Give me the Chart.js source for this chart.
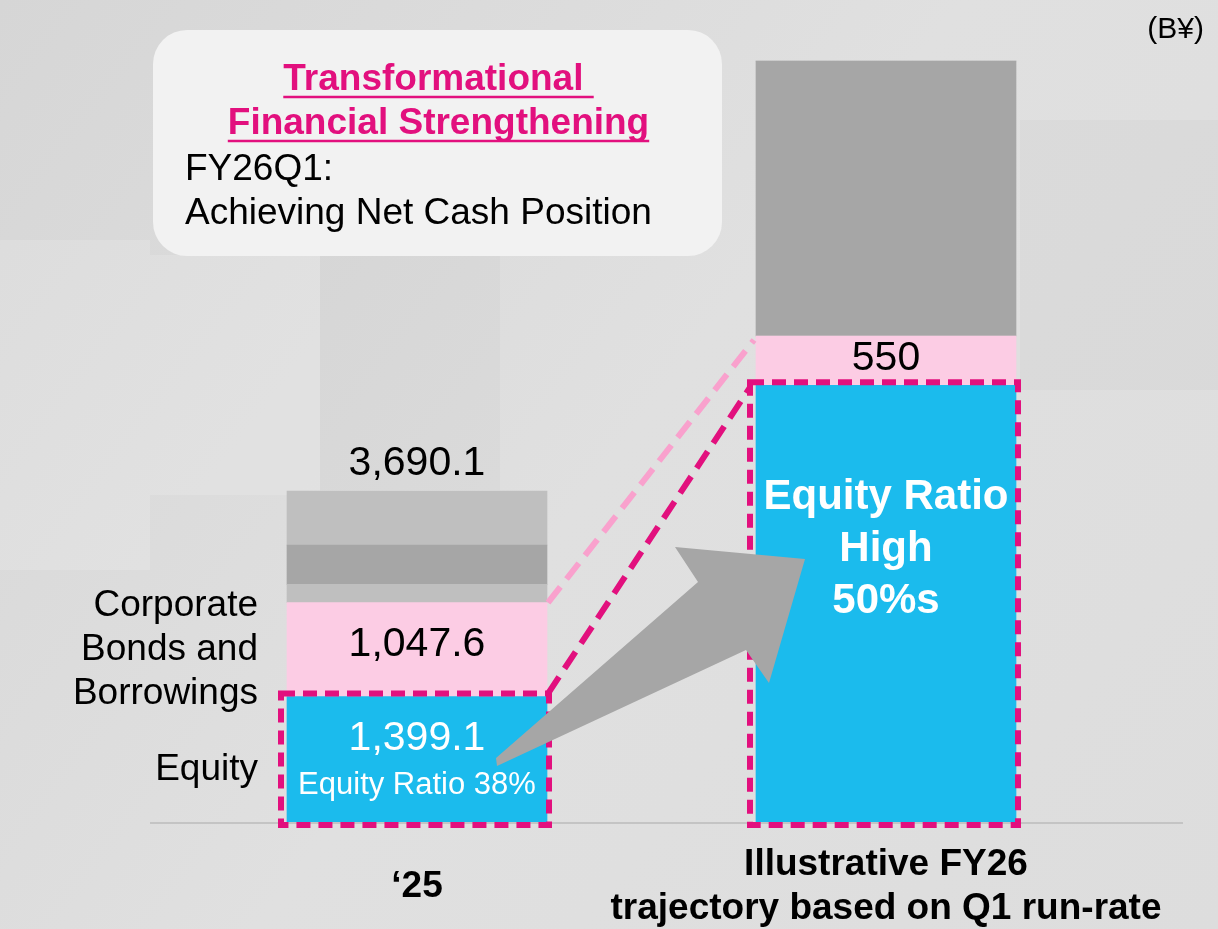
<!DOCTYPE html>
<html>
<head>
<meta charset="utf-8">
<style>
  html, body { margin: 0; padding: 0; background: #dedede; }
  canvas { display: block; }
</style>
<script src="https://cdn.jsdelivr.net/npm/chart.js@4.4.1/dist/chart.umd.min.js"></script>
</head>
<body>
<canvas id="bsChart" width="1218" height="929"></canvas>
<script>
// balance sheet, B¥
const periods = ["‘25", "Illustrative FY26"];
const periodLines = [["‘25"], ["Illustrative FY26", "trajectory based on Q1 run-rate"]];
const equity = [1399.1, 4870];
const bondsBorrowings = [1047.6, 550];
const otherLower = [204, 0];
const otherMid = [437, 3065];
const otherUpper = [602.4, 0];
const totalLabels = ["3,690.1", null];
const equityRatioText = ["Equity Ratio 38%", ["Equity Ratio", "High", "50%s"]];

const BLUE = "#1bbbed";
const PINK = "#fccce4";
const MAGENTA = "#e2107e";
const LIGHT_MAGENTA = "#f9a1cd";
const GREY_LIGHT = "#bfbfbf";
const GREY_DARK = "#a6a6a6";
const FONT = "'Liberation Sans', Arial, sans-serif";

function fmt(v) {
  return v.toLocaleString("en-US", { minimumFractionDigits: v % 1 ? 1 : 0, maximumFractionDigits: 1 });
}

const decor = {
  id: "decor",
  beforeDraw(chart) {
    const ctx = chart.ctx;
    const w = chart.width, h = chart.height;
    ctx.save();
    const g = ctx.createLinearGradient(0, 0, w, h);
    g.addColorStop(0, "#d6d6d6");
    g.addColorStop(0.5, "#e0e0e0");
    g.addColorStop(1, "#dddddd");
    ctx.fillStyle = g;
    ctx.fillRect(0, 0, w, h);
    // faint wall panels in the backdrop
    ctx.fillStyle = "rgba(255,255,255,0.14)";
    ctx.fillRect(0, 240, 150, 330);
    ctx.fillRect(150, 255, 170, 240);
    ctx.fillStyle = "rgba(0,0,0,0.02)";
    ctx.fillRect(320, 250, 180, 240);
    ctx.fillRect(1020, 120, 198, 270);
    ctx.restore();
  },
  afterDatasetsDraw(chart) {
    const ctx = chart.ctx;
    const x = chart.scales.x, y = chart.scales.y;
    const base = y.getPixelForValue(0);
    const eqBars = chart.getDatasetMeta(0).data;
    const bdBars = chart.getDatasetMeta(1).data;
    const topBars = chart.getDatasetMeta(4).data;
    const half = eqBars[0].width / 2;
    const L = eqBars[0].x, R = eqBars[1].x;

    ctx.save();
    // axis baseline
    ctx.strokeStyle = "#c4c4c4";
    ctx.lineWidth = 2;
    ctx.beginPath();
    ctx.moveTo(150, base + 1);
    ctx.lineTo(1183, base + 1);
    ctx.stroke();

    // connector from bonds top
    ctx.strokeStyle = LIGHT_MAGENTA;
    ctx.lineWidth = 6;
    ctx.setLineDash([20, 10]);
    ctx.beginPath();
    ctx.moveTo(L + half + 1, bdBars[0].y);
    ctx.lineTo(R - half - 2, bdBars[1].y + 4);
    ctx.stroke();

    // equity boxes and connector
    ctx.strokeStyle = MAGENTA;
    ctx.lineWidth = 6;
    ctx.setLineDash([20, 10]);
    ctx.beginPath();
    ctx.moveTo(L + half + 1, eqBars[0].y - 3);
    ctx.lineTo(R - half - 6, eqBars[1].y + 2);
    ctx.stroke();
    ctx.setLineDash([14, 8]);
    eqBars.forEach(b => {
      ctx.strokeRect(b.x - half - 6, b.y - 3, b.width + 8, base - b.y + 6);
    });
    ctx.setLineDash([]);

    // arrow from '25 equity into FY26 equity
    ctx.fillStyle = "#a6a6a6";
    ctx.beginPath();
    ctx.moveTo(496, 758);
    ctx.lineTo(698, 582);
    ctx.lineTo(675, 547);
    ctx.lineTo(805, 559);
    ctx.lineTo(769, 683);
    ctx.lineTo(746, 650);
    ctx.lineTo(497, 766);
    ctx.closePath();
    ctx.fill();

    // value labels
    ctx.textAlign = "center";
    ctx.textBaseline = "middle";
    ctx.fillStyle = "#000";
    ctx.font = "41px " + FONT;
    topBars.forEach((b, i) => {
      if (totalLabels[i]) ctx.fillText(totalLabels[i], b.x, b.y - 27);
    });
    ctx.fillText(fmt(bondsBorrowings[0]), bdBars[0].x, (bdBars[0].y + bdBars[0].base) / 2 - 5);
    ctx.fillText(fmt(bondsBorrowings[1]), bdBars[1].x, (bdBars[1].y + bdBars[1].base) / 2 - 2);

    ctx.fillStyle = "#fff";
    ctx.fillText(fmt(equity[0]), eqBars[0].x, eqBars[0].y + 42);
    ctx.font = "31px " + FONT;
    ctx.fillText(equityRatioText[0], eqBars[0].x, eqBars[0].y + 89);
    ctx.font = "bold 42px " + FONT;
    equityRatioText[1].forEach((t, k) => {
      ctx.fillText(t, eqBars[1].x, eqBars[1].y + 112 + k * 52);
    });

    // segment names on the left
    ctx.fillStyle = "#000";
    ctx.font = "37px " + FONT;
    ctx.textAlign = "right";
    const lx = L - half - 29;
    ["Corporate", "Bonds and", "Borrowings"].forEach((t, k) => {
      ctx.fillText(t, lx, 606 + k * 44);
    });
    ctx.fillText("Equity", lx, 770);

    // category labels
    ctx.textAlign = "center";
    ctx.font = "bold 37px " + FONT;
    periodLines.forEach((lines, i) => {
      const cx = x.getPixelForValue(i);
      const y0 = 887 - (lines.length - 1) * 22;
      lines.forEach((t, k) => ctx.fillText(t, cx, y0 + k * 44));
    });

    // unit
    ctx.font = "30px " + FONT;
    ctx.textAlign = "right";
    ctx.fillText("(B¥)", 1204, 30);

    // callout box
    const bx = 153, by = 30, bw = 569, bh = 226, r = 34;
    ctx.fillStyle = "#f2f2f2";
    ctx.beginPath();
    ctx.roundRect(bx, by, bw, bh, r);
    ctx.fill();

    ctx.fillStyle = MAGENTA;
    ctx.strokeStyle = MAGENTA;
    ctx.lineWidth = 2.5;
    ctx.font = "bold 37px " + FONT;
    ctx.textAlign = "center";
    const cx = bx + bw / 2 + 1;
    ["Transformational ", "Financial Strengthening"].forEach((t, k) => {
      const ty = 80 + k * 44;
      ctx.fillText(t, cx, ty);
      const tw = ctx.measureText(t).width;
      ctx.beginPath();
      ctx.moveTo(cx - tw / 2, ty + 17);
      ctx.lineTo(cx + tw / 2, ty + 17);
      ctx.stroke();
    });
    ctx.fillStyle = "#000";
    ctx.font = "37px " + FONT;
    ctx.textAlign = "left";
    ctx.fillText("FY26Q1:", 185, 170);
    ctx.fillText("Achieving Net Cash Position", 185, 214);
    ctx.restore();
  }
};

new Chart(document.getElementById("bsChart"), {
  type: "bar",
  data: {
    labels: periods,
    datasets: [
      { label: "Equity", data: equity, backgroundColor: BLUE },
      { label: "Corporate Bonds and Borrowings", data: bondsBorrowings, backgroundColor: PINK },
      { label: "Other", data: otherLower, backgroundColor: GREY_LIGHT },
      { label: "Other", data: otherMid, backgroundColor: GREY_DARK },
      { label: "Other", data: otherUpper, backgroundColor: GREY_LIGHT }
    ]
  },
  options: {
    responsive: false,
    animation: false,
    devicePixelRatio: 1,
    layout: { padding: { top: 15, bottom: 107, left: 182.5, right: 97.5 } },
    datasets: { bar: { barThickness: 260, borderWidth: 0 } },
    scales: {
      x: { stacked: true, display: false },
      y: { stacked: true, display: false, min: 0, max: 9000 }
    },
    plugins: {
      legend: { display: false },
      tooltip: { enabled: false }
    }
  },
  plugins: [decor]
});
</script>
</body>
</html>
